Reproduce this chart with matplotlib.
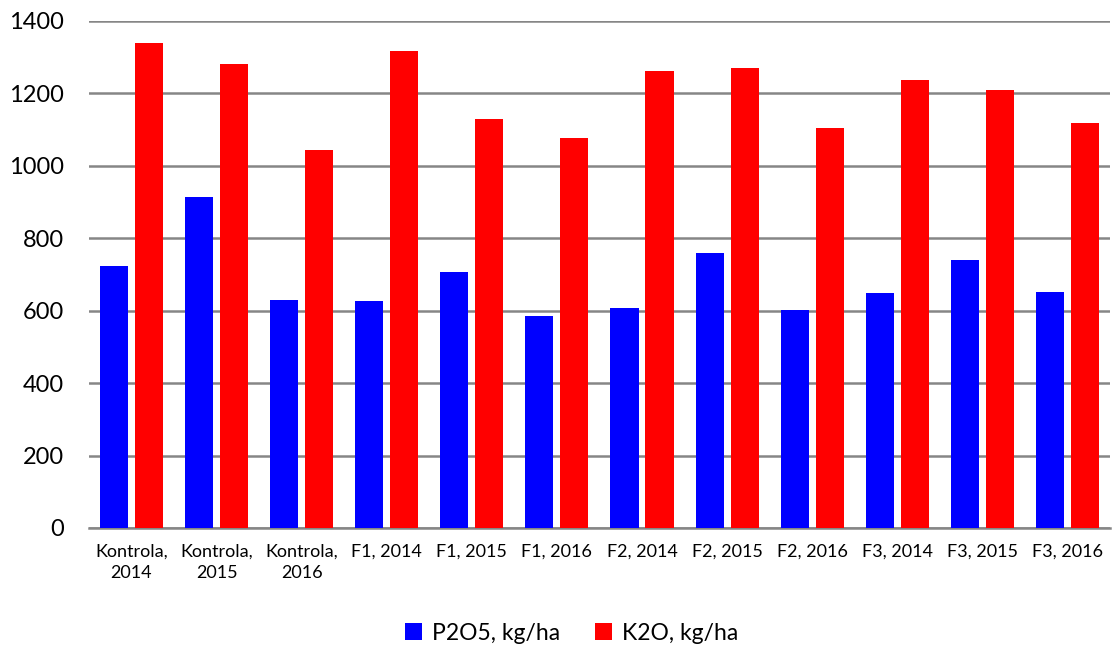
import numpy as np
import matplotlib.pyplot as plt

categories = ['Kontrola,\n2014', 'Kontrola,\n2015', 'Kontrola,\n2016',
              'F1, 2014', 'F1, 2015', 'F1, 2016',
              'F2, 2014', 'F2, 2015', 'F2, 2016',
              'F3, 2014', 'F3, 2015', 'F3, 2016']
p2o5 = [723, 914, 630, 627, 707, 585, 608, 759, 602, 649, 740, 652]
k2o = [1339, 1281, 1044, 1317, 1129, 1077, 1262, 1270, 1105, 1237, 1210, 1118]

plt.rcParams['font.family'] = ['Lato', 'DejaVu Sans']

fig = plt.figure(figsize=(11.16, 6.5), dpi=100)
ax = fig.add_axes([0.0797, 0.1877, 0.9149, 0.78])

x = np.arange(len(categories))
w = 0.33
off = 0.206
ax.bar(x - off, p2o5, w, color='#0000ff', label='P2O5, kg/ha', zorder=3)
ax.bar(x + off, k2o, w, color='#ff0000', label='K2O, kg/ha', zorder=3)

ax.set_xlim(-0.5, len(categories) - 0.5)
ax.set_ylim(0, 1400)
ax.set_yticks(range(0, 1401, 200))
ax.yaxis.grid(True, color='#868686', linewidth=1.8, zorder=0)
ax.set_xticks(x)
ax.set_xticklabels(categories, fontsize=13, linespacing=1.45)
ax.tick_params(axis='y', labelsize=17, length=0, pad=18)
ax.tick_params(axis='x', length=0, pad=11)
for s in ['top', 'right', 'left']:
    ax.spines[s].set_visible(False)
ax.spines['bottom'].set_color('#868686')
ax.spines['bottom'].set_linewidth(1.8)

fig.legend(loc='center', bbox_to_anchor=(0.512, 0.026), ncol=2, frameon=False,
           fontsize=16.5, handlelength=0.75, handleheight=0.75, columnspacing=1.5,
           handletextpad=0.45)

fig.savefig('out.png', dpi=100)
